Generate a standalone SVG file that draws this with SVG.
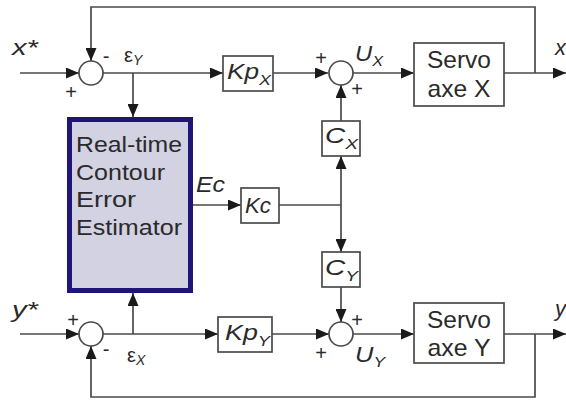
<svg xmlns="http://www.w3.org/2000/svg" width="566" height="400" viewBox="0 0 566 400">
<defs>
<marker id="arr" markerUnits="userSpaceOnUse" markerWidth="13" markerHeight="11" viewBox="0 0 13 11" refX="13" refY="5.5" orient="auto">
<path d="M0,0 L13,5.5 L0,11 z" fill="#1a1a1a"/>
</marker>
<style>
.ln{fill:none;stroke:#4a4a4a;stroke-width:1.7}
.ar{marker-end:url(#arr)}
.box{fill:#fff;stroke:#4a4a4a;stroke-width:1.7}
.sum{fill:#fff;stroke:#4a4a4a;stroke-width:1.7}
.t{font-family:"Liberation Sans",Arial,sans-serif;fill:#2a2a2a}
.it{font-style:italic}
.sign{font-family:"Liberation Sans",Arial,sans-serif;fill:#2a2a2a;font-size:20px;text-anchor:middle}
</style>
</defs>
<rect width="566" height="400" fill="#fff"/>
<g id="connectors">
<line class="ln ar" x1="20" y1="73" x2="79" y2="73"/>
<path class="ln ar" d="M535,73 V7 H91 V61"/>
<line class="ln ar" x1="103" y1="73" x2="223" y2="73"/>
<line class="ln ar" x1="133" y1="73" x2="133" y2="117"/>
<line class="ln ar" x1="273" y1="73" x2="328" y2="73"/>
<line class="ln ar" x1="353" y1="73" x2="414" y2="73"/>
<line class="ln ar" x1="504" y1="73" x2="566" y2="73"/>
<line class="ln ar" x1="341" y1="121" x2="341" y2="85"/>
<line class="ln ar" x1="341" y1="205" x2="341" y2="156"/>
<line class="ln ar" x1="193" y1="205" x2="241" y2="205"/>
<line class="ln" x1="279" y1="205" x2="341" y2="205"/>
<line class="ln ar" x1="341" y1="205" x2="341" y2="252"/>
<line class="ln ar" x1="341" y1="287" x2="341" y2="322"/>
<line class="ln ar" x1="20" y1="334" x2="79" y2="334"/>
<line class="ln ar" x1="103" y1="334" x2="218" y2="334"/>
<line class="ln ar" x1="133" y1="334" x2="133" y2="293"/>
<line class="ln ar" x1="272" y1="334" x2="329" y2="334"/>
<line class="ln ar" x1="353" y1="334" x2="414" y2="334"/>
<line class="ln ar" x1="504" y1="334" x2="566" y2="334"/>
<path class="ln ar" d="M535,334 V397 H91 V346"/>
</g>
<g id="sumX1">
<circle class="sum" cx="91" cy="73" r="12"/>
<text class="sign" x="106" y="63">-</text>
<text class="sign" x="71" y="99">+</text>
</g>
<g id="sumY1">
<circle class="sum" cx="91" cy="334" r="12"/>
<text class="sign" x="73" y="327">+</text>
<text class="sign" x="106" y="356">-</text>
</g>
<g id="sumX2">
<circle class="sum" cx="341" cy="73" r="12"/>
<text class="sign" x="321" y="65">+</text>
<text class="sign" x="357" y="96">+</text>
</g>
<g id="sumY2">
<circle class="sum" cx="341" cy="334" r="12"/>
<text class="sign" x="357" y="327">+</text>
<text class="sign" x="321" y="360">+</text>
</g>
<g id="estimator">
<rect x="69.5" y="119.5" width="121" height="171" fill="#d2d2e2" stroke="#1e1577" stroke-width="5"/>
<text class="t" font-size="22" x="76" y="152" textLength="106" lengthAdjust="spacingAndGlyphs">Real-time</text>
<text class="t" font-size="22" x="76" y="180" textLength="89" lengthAdjust="spacingAndGlyphs">Contour</text>
<text class="t" font-size="22" x="76" y="207" textLength="60" lengthAdjust="spacingAndGlyphs">Error</text>
<text class="t" font-size="22" x="76" y="235" textLength="106" lengthAdjust="spacingAndGlyphs">Estimator</text>
</g>
<g id="kpx">
<rect class="box" x="223" y="56" width="50" height="35"/>
<text class="t it" font-size="22" x="227" y="79" textLength="44" lengthAdjust="spacingAndGlyphs">Kp<tspan font-size="15" dy="6">X</tspan></text>
</g>
<g id="kpy">
<rect class="box" x="218" y="317" width="54" height="35"/>
<text class="t it" font-size="22" x="225" y="340" textLength="45" lengthAdjust="spacingAndGlyphs">Kp<tspan font-size="15" dy="6">Y</tspan></text>
</g>
<g id="kc">
<rect class="box" x="241" y="188" width="38" height="35"/>
<text class="t it" font-size="22" x="245" y="213" textLength="26" lengthAdjust="spacingAndGlyphs">Kc</text>
</g>
<g id="cx">
<rect class="box" x="322" y="121" width="38" height="35"/>
<text class="t it" font-size="22" x="325" y="143" textLength="33" lengthAdjust="spacingAndGlyphs">C<tspan font-size="15" dy="6">X</tspan></text>
</g>
<g id="cy">
<rect class="box" x="322" y="252" width="38" height="35"/>
<text class="t it" font-size="22" x="325" y="275" textLength="33" lengthAdjust="spacingAndGlyphs">C<tspan font-size="15" dy="6">Y</tspan></text>
</g>
<g id="servoX">
<rect class="box" x="414" y="43" width="90" height="63"/>
<text class="t" font-size="24" x="459" y="68" text-anchor="middle" textLength="64" lengthAdjust="spacingAndGlyphs">Servo</text>
<text class="t" font-size="24" x="459" y="97" text-anchor="middle" textLength="63" lengthAdjust="spacingAndGlyphs">axe X</text>
</g>
<g id="servoY">
<rect class="box" x="414" y="303" width="90" height="60"/>
<text class="t" font-size="24" x="459" y="328" text-anchor="middle" textLength="64" lengthAdjust="spacingAndGlyphs">Servo</text>
<text class="t" font-size="24" x="459" y="356" text-anchor="middle" textLength="63" lengthAdjust="spacingAndGlyphs">axe Y</text>
</g>
<g id="labels">
<text class="t it" font-size="22" x="12" y="55" textLength="26" lengthAdjust="spacingAndGlyphs">x*</text>
<text class="t it" font-size="22" x="12" y="317" textLength="26" lengthAdjust="spacingAndGlyphs">y*</text>
<text class="t it" font-size="22" x="555" y="55">x</text>
<text class="t it" font-size="22" x="555" y="316">y</text>
<text class="t" font-size="20" x="124" y="62">ε<tspan class="it" font-size="14" dy="3">Y</tspan></text>
<text class="t" font-size="20" x="127" y="362">ε<tspan class="it" font-size="14" dy="3">X</tspan></text>
<text class="t it" font-size="22" x="355" y="61" textLength="28" lengthAdjust="spacingAndGlyphs">U<tspan font-size="15" dy="5">X</tspan></text>
<text class="t it" font-size="22" x="355" y="362" textLength="30" lengthAdjust="spacingAndGlyphs">U<tspan font-size="15" dy="5">Y</tspan></text>
<text class="t it" font-size="22" x="196" y="192" textLength="29" lengthAdjust="spacingAndGlyphs">Ec</text>
</g>
</svg>
